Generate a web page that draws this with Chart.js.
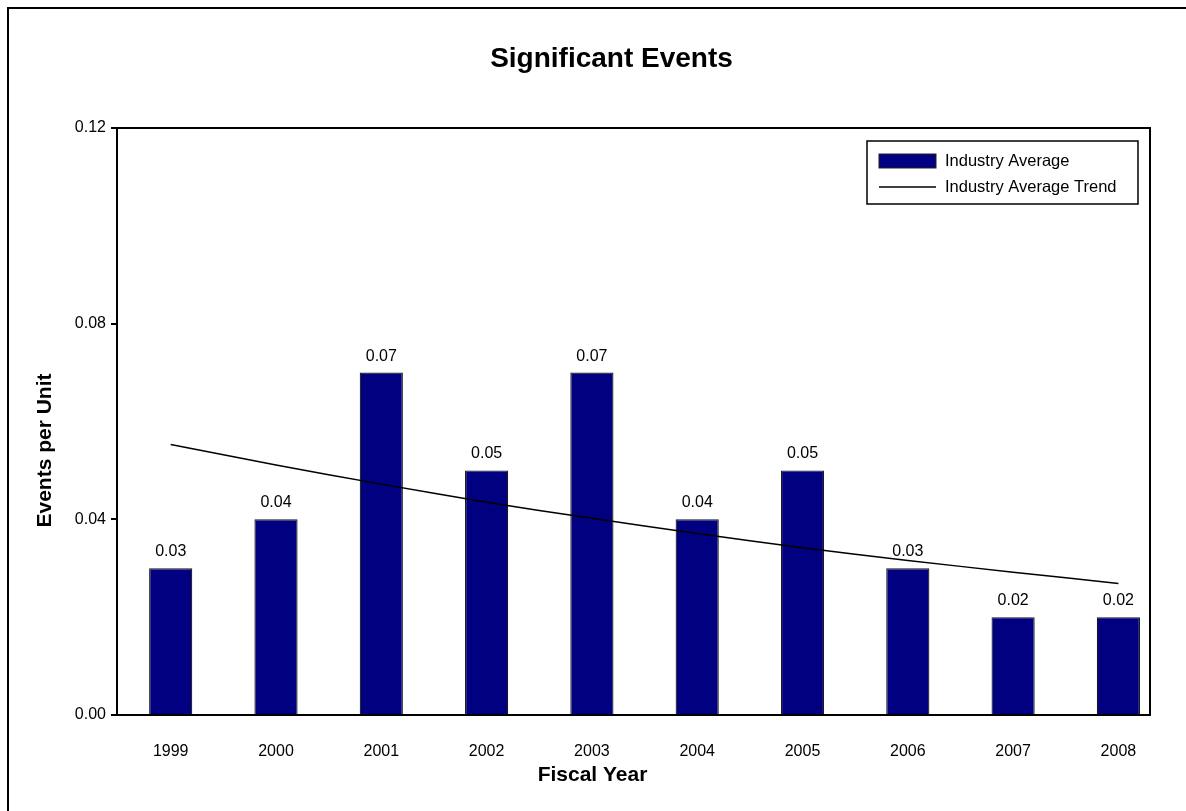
<!DOCTYPE html>
<html>
<head>
<meta charset="utf-8">
<title>Significant Events</title>
<script src="https://cdn.jsdelivr.net/npm/chart.js@4.4.1/dist/chart.umd.min.js"></script>
<style>
  html, body { margin: 0; padding: 0; background: #fff; overflow: hidden; }
  #wrap { position: relative; width: 1186px; height: 811px; }
  #frame {
    position: absolute; left: 7px; top: 7px; width: 1400px; height: 1000px;
    border-left: 2px solid #000; border-top: 2px solid #000; pointer-events: none;
  }
</style>
</head>
<body>
<div id="wrap">
  <canvas id="chart" width="1186" height="811"></canvas>
  <div id="frame"></div>
</div>
<script>
// ---- datos ----
const YEARS = ["1999", "2000", "2001", "2002", "2003", "2004", "2005", "2006", "2007", "2008"];
const INDUSTRY_AVG = [0.03, 0.04, 0.07, 0.05, 0.07, 0.04, 0.05, 0.03, 0.02, 0.02];
const INDUSTRY_TREND = [0.0553, 0.0511, 0.0472, 0.0435, 0.0402, 0.0371, 0.0342, 0.0316, 0.0292, 0.0269];
const Y_TICKS = [0, 0.04, 0.08, 0.12];

const TITLE = "Significant Events";
const X_TITLE = "Fiscal Year";
const Y_TITLE = "Events per Unit";

const FONT = "'Liberation Sans', Arial, sans-serif";
const NAVY = "#000080";

// etiquetas de valor encima de cada barra
const barLabels = {
  id: "barLabels",
  afterDatasetsDraw(chart) {
    const { ctx } = chart;
    const meta = chart.getDatasetMeta(0);
    ctx.save();
    ctx.font = "16px " + FONT;
    ctx.fillStyle = "#000";
    ctx.textAlign = "center";
    ctx.textBaseline = "alphabetic";
    meta.data.forEach((bar, i) => {
      ctx.fillText(INDUSTRY_AVG[i].toFixed(2), bar.x, bar.y - 12);
    });
    ctx.restore();
  }
};

// títulos: en el original no van centrados sobre el área de trazado
const titles = {
  id: "titles",
  afterDraw(chart) {
    const { ctx, chartArea: a } = chart;
    const cx = (a.left + a.right) / 2, cy = (a.top + a.bottom) / 2;
    ctx.save();
    ctx.fillStyle = "#000";
    ctx.textAlign = "center";
    ctx.textBaseline = "middle";
    ctx.font = "bold 28px " + FONT;
    ctx.fillText(TITLE, cx - 22, a.top - 69);
    ctx.font = "bold 21px " + FONT;
    ctx.fillText(X_TITLE, cx - 41, a.bottom + 60);
    ctx.translate(a.left - 72, cy + 29);
    ctx.rotate(-Math.PI / 2);
    ctx.fillText(Y_TITLE, 0, 0);
    ctx.restore();
  }
};

// marco del área de trazado + leyenda dentro del área
const plotFrame = {
  id: "plotFrame",
  afterDraw(chart) {
    const { ctx, chartArea: a } = chart;
    ctx.save();
    ctx.strokeStyle = "#000";
    ctx.lineWidth = 2;
    ctx.strokeRect(a.left, a.top, a.right - a.left, a.bottom - a.top);

    // leyenda
    const w = 271, h = 63;
    const x = a.right - 12 - w, y = a.top + 13;
    ctx.fillStyle = "#fff";
    ctx.fillRect(x, y, w, h);
    ctx.lineWidth = 1.5;
    ctx.strokeRect(x, y, w, h);

    const ds = chart.data.datasets;
    ctx.fillStyle = ds[0].backgroundColor;
    ctx.fillRect(x + 12, y + 13, 57, 14);
    ctx.lineWidth = 1;
    ctx.strokeStyle = "#222";
    ctx.strokeRect(x + 12, y + 13, 57, 14);

    ctx.strokeStyle = ds[1].borderColor;
    ctx.lineWidth = 1.5;
    ctx.beginPath();
    ctx.moveTo(x + 12, y + 46);
    ctx.lineTo(x + 69, y + 46);
    ctx.stroke();

    ctx.fillStyle = "#000";
    ctx.font = "16.5px " + FONT;
    ctx.textAlign = "left";
    ctx.textBaseline = "middle";
    ctx.fillText(ds[0].label, x + 78, y + 20);
    ctx.fillText(ds[1].label, x + 78, y + 46);
    ctx.restore();
  }
};

new Chart(document.getElementById("chart").getContext("2d"), {
  data: {
    datasets: [
      {
        type: "bar",
        label: "Industry Average",
        data: INDUSTRY_AVG.map((v, i) => ({ x: i, y: v })),
        backgroundColor: NAVY,
        borderColor: "#1a1a1a",
        borderWidth: 1.2,
        barPercentage: 0.41,
        categoryPercentage: 1,
        order: 2
      },
      {
        type: "line",
        label: "Industry Average Trend",
        data: INDUSTRY_TREND.map((v, i) => ({ x: i, y: v })),
        borderColor: "#000",
        borderWidth: 1.5,
        pointRadius: 0,
        tension: 0.3,
        fill: false,
        order: 1
      }
    ]
  },
  options: {
    responsive: false,
    animation: false,
    layout: { padding: { left: 0, top: 128, right: 36, bottom: 0 } },
    plugins: {
      legend: { display: false },
      tooltip: { enabled: false },
      title: { display: false }
    },
    scales: {
      x: {
        type: "linear",
        offset: false,
        min: -0.51,
        max: 9.3,
        afterBuildTicks: (s) => { s.ticks = YEARS.map((_, i) => ({ value: i })); },
        afterFit: (s) => { s.height = 96; },
        ticks: {
          color: "#000",
          font: { family: FONT, size: 16 },
          padding: 19,
          maxRotation: 0,
          autoSkip: false,
          callback: (v) => YEARS[v]
        },
        grid: { display: false },
        border: { display: false }
      },
      y: {
        min: 0,
        max: 0.12,
        afterBuildTicks: (s) => { s.ticks = Y_TICKS.map(v => ({ value: v })); },
        afterFit: (s) => { s.width = 117; },
        ticks: {
          color: "#000",
          font: { family: FONT, size: 16 },
          padding: 5,
          callback: (v) => Number(v).toFixed(2)
        },
        grid: { drawOnChartArea: false, drawTicks: true, tickLength: 6, color: "#000", lineWidth: 2 },
        border: { display: false }
      }
    }
  },
  plugins: [barLabels, plotFrame, titles]
});
</script>
</body>
</html>
